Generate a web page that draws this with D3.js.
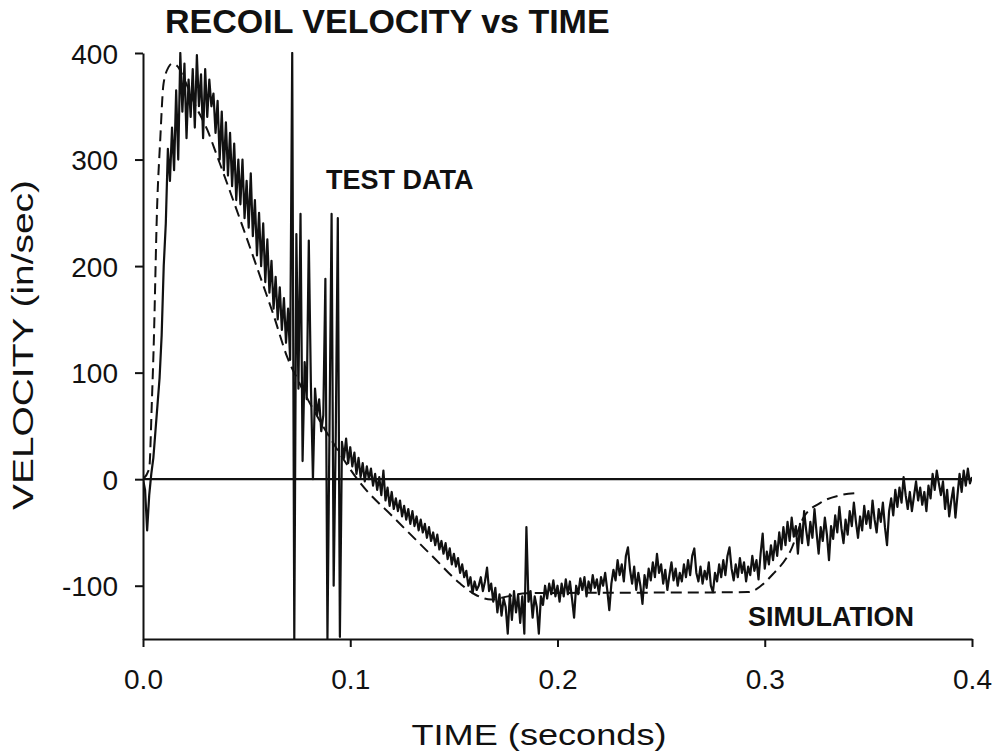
<!DOCTYPE html>
<html>
<head>
<meta charset="utf-8">
<script src="https://cdn.jsdelivr.net/npm/d3@7"></script>
<style>
  body { margin: 0; background: #fff; }
  svg { display: block; font-family: "Liberation Sans", Arial, sans-serif; }
</style>
</head>
<body>
<div id="viz"></div>
<script>
const testStep = 0.001;
const testVelocity = [
  0, -10, -48, -15, 5, 20, 45, 70, 95, 135,
  200, 240, 310, 280, 330, 290, 365, 300, 400, 345,
  390, 320, 375, 340, 385, 330, 398, 350, 380, 320,
  385, 340, 375, 350, 362, 325, 355, 300, 345, 290,
  335, 285, 325, 275, 315, 262, 300, 258, 300, 245,
  280, 236, 287, 228, 262, 210, 250, 200, 240, 185,
  225, 175, 205, 160, 190, 150, 180, 140, 170, 128,
  160, 112, 400, -150, 230, 85, 249, 17, 110, 75,
  224, 90, 0, 85, 60, 75, 45, 60, 188, -150,
  50, 249, -100, 40, 245, -148, 35, 20, 38, 15,
  30, 12, 25, 5, 20, 2, 15, -2, 12, 0,
  10, -6, 5, -10, 2, -15, 8, -20, -8, -25,
  -12, -28, -18, -30, -20, -35, -25, -38, -28, -42,
  -30, -44, -35, -48, -38, -50, -42, -55, -45, -58,
  -50, -62, -52, -66, -58, -70, -60, -75, -65, -80,
  -70, -82, -74, -88, -80, -92, -86, -100, -92, -107,
  -96, -104, -100, -92, -105, -96, -83, -105, -98, -115,
  -102, -125, -108, -128, -112, -120, -145, -108, -132, -105,
  -125, -108, -135, -110, -145, -45, -115, -105, -130, -110,
  -120, -145, -110, -118, -100, -112, -98, -108, -95, -110,
  -100, -115, -98, -110, -94, -108, -96, -112, -130, -100,
  -108, -93, -104, -92, -110, -96, -105, -90, -102, -94,
  -108, -92, -100, -88, -104, -123, -98, -85, -95, -76,
  -90, -80, -96, -72, -64, -85, -98, -82, -104, -88,
  -100, -117, -90, -102, -84, -95, -78, -92, -70, -88,
  -80, -98, -85, -104, -90, -78, -95, -84, -100, -88,
  -96, -80, -92, -76, -90, -72, -65, -88, -96, -82,
  -98, -86, -94, -78, -100, -106, -88, -96, -80, -92,
  -76, -90, -72, -64, -84, -95, -80, -92, -74, -88,
  -78, -96, -82, -90, -72, -86, -76, -94, -70, -51,
  -84, -68, -80, -62, -76, -58, -72, -50, -66, -45,
  -62, -40, -58, -36, -54, -44, -70, -42, -60, -30,
  -48, -62, -40, -55, -28, -50, -70, -45, -58, -36,
  -52, -76, -44, -56, -34, -50, -26, -46, -60, -38,
  -52, -30, -44, -22, -40, -55, -35, -48, -25, -42,
  -30, -46, -20, -38, -50, -28, -40, -22, -45, -62,
  -30, -18, -34, -10, -26, -8, -22, 2, -15, -28,
  -12, -30, -16, -2, -20, -8, -24, -12, -30, -6,
  -18, 5, -10, 8, -4, -15, -2, -28, -10, -35,
  -20, -8, -36, -15, 5, -12, 8, -6, 10, -4,
  2
];

// simulation curve
const simTime = [0, 0.003, 0.0043, 0.0051, 0.0068, 0.0083, 0.0099, 0.0124, 0.014, 0.0164, 0.02, 0.025,
  0.031, 0.036, 0.042, 0.049, 0.058, 0.063, 0.0697, 0.075, 0.082, 0.088, 0.094, 0.105, 0.121,
  0.14, 0.153, 0.16, 0.168, 0.176, 0.185, 0.2917, 0.304, 0.3125, 0.3187, 0.327, 0.3366, 0.345];
const simVelocity = [0, 10, 74, 121, 255, 318, 371, 387, 390, 388, 375, 352,
  328, 302, 270, 232, 182, 154, 114, 92, 66, 46, 27, -4, -36,
  -73, -98, -108, -113, -110, -107, -106, -89, -67, -36, -22, -15, -13];

const xTicks = [0, 0.1, 0.2, 0.3, 0.4];
const yTicks = [-100, 0, 100, 200, 300, 400];

const width = 995;
const height = 751;
const margin = { left: 143, right: 23, top: 53, bottom: 112 };

const svg = d3.select("#viz").append("svg")
    .attr("width", width)
    .attr("height", height);

const x = d3.scaleLinear()
    .domain([0, 0.4])
    .range([margin.left, width - margin.right]);

const y = d3.scaleLinear()
    .domain([-150, 400])
    .range([height - margin.bottom, margin.top]);

const testData = testVelocity.map((v, i) => ({ t: i * testStep, v: v }));
const simData = simTime.map((t, i) => ({ t: t, v: simVelocity[i] }));

svg.append("clipPath")
    .attr("id", "plot-clip")
  .append("rect")
    .attr("x", x(0))
    .attr("y", y(400) - 1)
    .attr("width", x(0.4) - x(0))
    .attr("height", y(-150) - y(400) + 2);

// zero line
svg.append("line")
    .attr("x1", x(0))
    .attr("x2", x(0.4))
    .attr("y1", y(0))
    .attr("y2", y(0))
    .attr("stroke", "#111")
    .attr("stroke-width", 2.2);

const line = d3.line()
    .x(d => x(d.t))
    .y(d => y(d.v));

svg.append("path")
    .datum(simData)
    .attr("clip-path", "url(#plot-clip)")
    .attr("fill", "none")
    .attr("stroke", "#111")
    .attr("stroke-width", 2)
    .attr("stroke-dasharray", "11,6")
    .attr("d", line.curve(d3.curveMonotoneX));

svg.append("path")
    .datum(testData)
    .attr("clip-path", "url(#plot-clip)")
    .attr("fill", "none")
    .attr("stroke", "#111")
    .attr("stroke-width", 2.2)
    .attr("stroke-linejoin", "round")
    .attr("d", line.curve(d3.curveLinear));

// axes
const xAxis = svg.append("g")
    .attr("transform", `translate(0,${y(-150)})`)
    .call(d3.axisBottom(x)
        .tickValues(xTicks)
        .tickFormat(d3.format(".1f"))
        .tickSize(8)
        .tickSizeOuter(0)
        .tickPadding(22));

const yAxis = svg.append("g")
    .attr("transform", `translate(${x(0)},0)`)
    .call(d3.axisLeft(y)
        .tickValues(yTicks)
        .tickFormat(d => String(d))
        .tickSize(8)
        .tickSizeOuter(0)
        .tickPadding(17));

[xAxis, yAxis].forEach(g => {
    g.selectAll("path, line").attr("stroke", "#111").attr("stroke-width", 2);
    g.selectAll("text")
        .attr("fill", "#111")
        .style("font-size", "28px")
        .style("font-family", '"Liberation Sans", Arial, sans-serif');
});
yAxis.selectAll("text").attr("dy", "0.36em");

// titles
svg.append("text")
    .attr("x", 165)
    .attr("y", 33)
    .style("font-size", "34px")
    .style("font-weight", 700)
    .attr("fill", "#111")
    .text("RECOIL VELOCITY vs TIME");

svg.append("text")
    .attr("x", 326)
    .attr("y", 189)
    .style("font-size", "27px")
    .style("font-weight", 700)
    .attr("fill", "#111")
    .text("TEST DATA");

svg.append("text")
    .attr("x", 748)
    .attr("y", 626)
    .style("font-size", "27px")
    .style("font-weight", 700)
    .attr("fill", "#111")
    .text("SIMULATION");

svg.append("text")
    .attr("x", 539)
    .attr("y", 745)
    .style("text-anchor", "middle")
    .style("font-size", "30px")
    .attr("textLength", 255)
    .attr("lengthAdjust", "spacingAndGlyphs")
    .attr("fill", "#111")
    .text("TIME (seconds)");

svg.append("text")
    .attr("transform", `translate(33,345) rotate(-90)`)
    .style("text-anchor", "middle")
    .style("font-size", "30px")
    .attr("textLength", 330)
    .attr("lengthAdjust", "spacingAndGlyphs")
    .attr("fill", "#111")
    .text("VELOCITY (in/sec)");
</script>
</body>
</html>
